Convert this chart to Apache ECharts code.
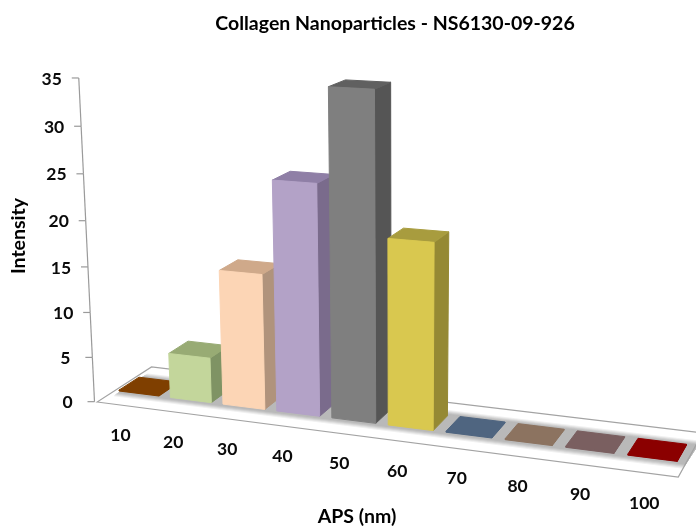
<!DOCTYPE html>
<html>
<head>
<meta charset="utf-8">
<script src="https://cdn.jsdelivr.net/npm/echarts@6/dist/echarts.min.js"></script>
<style>
  html, body { margin: 0; background: #fff; }
  #main { width: 696px; height: 527px; filter: blur(0.45px); }
</style>
</head>
<body>
<div id="main"></div>
<script>
var categories = ["10", "20", "30", "40", "50", "60", "70", "80", "90", "100"];
var intensity = [0.1, 5.0, 14.8, 24.9, 34.8, 19.8, 0.1, 0.1, 0.1, 0.1];
var valueTicks = [0, 5, 10, 15, 20, 25, 30, 35];

var frontColors = ["#7f3f00", "#c3d69b", "#fcd5b5", "#b3a2c7", "#7f7f7f", "#d9c84f", "#4f6580", "#8c7360", "#7a5f60", "#8b0000"];
var topColors = ["#7f3f00", "#98ab74", "#cfa98a", "#8f7fa6", "#606060", "#a89c3e", "#4f6580", "#8c7360", "#7a5f60", "#8b0000"];
var sideColors = ["#7f3f00", "#7f9364", "#b0937c", "#7a6b8c", "#555555", "#958934", "#4f6580", "#8c7360", "#7a5f60", "#8b0000"];
var floorShades = ["#f1f1f1", "#e2e2e2", "#d2d2d2", "#c4c4c4", "#b9b9b9"];

var textFont = "Lato, 'Open Sans', sans-serif";

// perspective of the chart box, fitted by eye
var G = -0.0112, H = 0.0216, J = 0.0014;
var Ay = 2.03, Bx = 23, By = -4.8, X0 = 400;
var BAR_W = 0.78;

// i = position along the x axis, w = depth (0 front of bars, 1 back), v = value
function project(api, i, w, v) {
  var base = api.coord([i, 0]);
  var top = api.coord([i, v]);
  var W = 1 + G * i + H * w;
  var s = 1 / (1 - J * v);
  var X = (base[0] + Bx * w) / W;
  var Y = (base[1] + Ay * i + By * w) / W;
  return [X0 + (X - X0) * s, Y - ((base[1] - top[1]) / W) * s];
}

function poly(points, color, z2) {
  return {
    type: "polygon",
    z2: z2 || 0,
    shape: { points: points },
    style: { fill: color, stroke: color, lineWidth: 1, lineJoin: "round" }
  };
}

function renderFloor(params, api) {
  var children = [];
  var iMin = -0.08, iMax = 9.92, wMin = -0.855, wMax = 1.855;
  var outline = [
    project(api, iMin, wMin, 0),
    project(api, iMax, wMin, 0),
    project(api, iMax, wMax, 0),
    project(api, iMin, wMax, 0)
  ];
  floorShades.forEach(function (c, k) {
    var a = -0.34 + 0.06 * k, b = 1.34 - 0.06 * k;
    children.push(poly([
      project(api, iMin + 0.12, a, 0),
      project(api, iMax, a, 0),
      project(api, iMax + 0.03, b, 0),
      project(api, iMin + 0.12, b, 0)
    ], c));
  });
  children.push({
    type: "polygon",
    shape: { points: outline },
    style: { fill: "none", stroke: "#a3a3a3", lineWidth: 1.2 }
  });
  return { type: "group", children: children };
}

function renderBar(params, api) {
  var n = params.dataIndex;
  var i = api.value(0), v = api.value(1);
  var r = i + BAR_W;
  var fl = project(api, i, 0, 0), fr = project(api, r, 0, 0);
  var bl = project(api, r, 1, 0);
  var tfl = project(api, i, 0, v), tfr = project(api, r, 0, v);
  var tbl = project(api, i, 1, v), tbr = project(api, r, 1, v);
  return {
    type: "group",
    children: [
      poly([fr, bl, tbr, tfr], sideColors[n]),
      poly([tfl, tfr, tbr, tbl], topColors[n]),
      poly([fl, fr, tfr, tfl], frontColors[n])
    ]
  };
}

function renderCategoryLabel(params, api) {
  var p = project(api, api.value(0) + 0.39, -1, 0);
  return {
    type: "text",
    style: {
      text: categories[params.dataIndex],
      x: p[0] + 2,
      y: p[1] + 28,
      textAlign: "center",
      textVerticalAlign: "middle",
      fill: "#0a0a0a",
      font: "bold 17.5px " + textFont
    }
  };
}

function renderValueAxis(params, api) {
  var v = api.value(1);
  var p = project(api, -0.13, -0.855, v);
  var children = [
    {
      type: "line",
      shape: { x1: p[0] - 7, y1: p[1], x2: p[0], y2: p[1] },
      style: { stroke: "#9a9a9a", lineWidth: 1.2 }
    },
    {
      type: "text",
      style: {
        text: String(v),
        x: p[0] - 27,
        y: p[1] + 1,
        textAlign: "center",
        textVerticalAlign: "middle",
        fill: "#0a0a0a",
        font: "bold 17.5px " + textFont
      }
    }
  ];
  if (params.dataIndex > 0) {
    var q = project(api, -0.13, -0.855, valueTicks[params.dataIndex - 1]);
    children.push({
      type: "line",
      shape: { x1: q[0], y1: q[1], x2: p[0], y2: p[1] },
      style: { stroke: "#9a9a9a", lineWidth: 1.2 }
    });
  }
  return { type: "group", children: children };
}

var chart = echarts.init(document.getElementById("main"), null, { renderer: "canvas" });

chart.setOption({
  animation: false,
  backgroundColor: "#fff",
  title: {
    text: "Collagen Nanoparticles - NS6130-09-926",
    left: 390,
    top: 9,
    textAlign: "center",
    textStyle: { fontFamily: textFont, fontWeight: "bold", fontSize: 19.5, color: "#000" }
  },
  grid: { left: 119, top: 88.4, width: 495, height: 302.6 },
  xAxis: { type: "value", min: 0, max: 10, show: false },
  yAxis: { type: "value", min: 0, max: 35, interval: 5, show: false },
  graphic: [
    {
      type: "text",
      x: 19,
      y: 236,
      rotation: Math.PI / 2,
      style: {
        text: "Intensity",
        textAlign: "center",
        textVerticalAlign: "middle",
        fill: "#000",
        font: "bold 19.5px " + textFont
      }
    },
    {
      type: "text",
      x: 357,
      y: 517,
      style: {
        text: "APS (nm)",
        textAlign: "center",
        textVerticalAlign: "middle",
        fill: "#000",
        font: "bold 19.5px " + textFont
      }
    }
  ],
  series: [
    { type: "custom", clip: false, z: 1, renderItem: renderFloor, data: [[0, 0]], encode: { x: 0, y: 1 } },
    {
      type: "custom",
      clip: false,
      z: 2,
      renderItem: renderValueAxis,
      data: valueTicks.map(function (v) { return [0, v]; }),
      encode: { x: 0, y: 1 }
    },
    {
      type: "custom",
      clip: false,
      z: 3,
      renderItem: renderBar,
      data: intensity.map(function (v, i) { return [i, v]; }),
      encode: { x: 0, y: 1 }
    },
    {
      type: "custom",
      clip: false,
      z: 4,
      renderItem: renderCategoryLabel,
      data: categories.map(function (c, i) { return [i, 0]; }),
      encode: { x: 0, y: 1 }
    }
  ]
});
</script>
</body>
</html>
